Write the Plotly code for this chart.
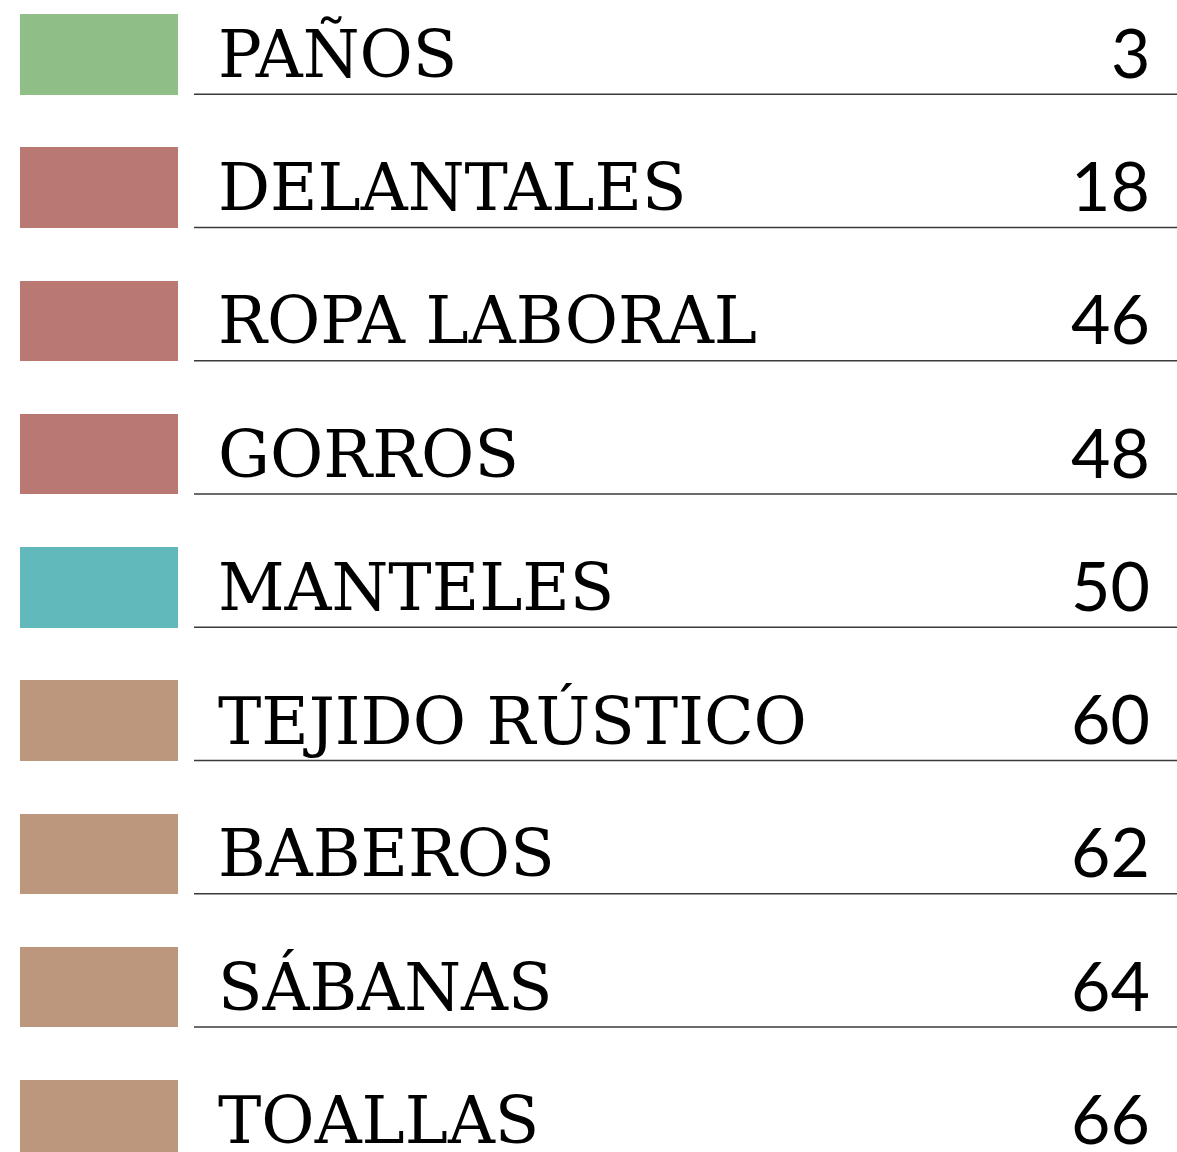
import plotly.graph_objects as go

categories = ["PAÑOS", "DELANTALES", "ROPA LABORAL", "GORROS", "MANTELES",
              "TEJIDO RÚSTICO", "BABEROS", "SÁBANAS", "TOALLAS"]
values = [3, 18, 46, 48, 50, 60, 62, 64, 66]
colors = ["#8FBE87", "#BA7872", "#BA7872", "#BA7872", "#62B9BC",
          "#BC977D", "#BC977D", "#BC977D", "#BC977D"]

W, H = 1177, 1152
pitch = 133.25
top_center = 54.25
rows = list(range(len(categories)))

fig = go.Figure()
fig.add_trace(go.Bar(
    y=rows, x=[158] * len(rows), base=[20] * len(rows), orientation="h",
    width=80.5 / pitch, marker=dict(color=colors, line=dict(width=0)),
    hoverinfo="skip", showlegend=False,
))

for i, (cat, val) in enumerate(zip(categories, values)):
    fig.add_shape(type="line", xref="x", yref="y", x0=194, x1=W,
                  y0=i + 40 / pitch, y1=i + 40 / pitch,
                  line=dict(color="#3a3a3a", width=1.3))
    fig.add_annotation(x=216, y=i, xref="x", yref="y", text=cat,
                       xanchor="left", yanchor="middle", showarrow=False,
                       font=dict(family="DejaVu Serif", size=65, color="#000000"))
    fig.add_annotation(x=1152, y=i - 3 / pitch, xref="x", yref="y", text=str(val),
                       xanchor="right", yanchor="middle", showarrow=False,
                       font=dict(family="Lato", size=68, color="#000000"))

fig.update_layout(
    width=W, height=H, margin=dict(l=0, r=0, t=0, b=0),
    paper_bgcolor="white", plot_bgcolor="white",
    xaxis=dict(range=[0, W], visible=False, fixedrange=True),
    yaxis=dict(range=[(H - top_center) / pitch, -top_center / pitch],
               visible=False, fixedrange=True),
    bargap=0,
)
fig.write_html("out.html",
               config={"displayModeBar": False},
               post_script="document.body.style.margin='0';document.body.style.overflow='hidden';")
